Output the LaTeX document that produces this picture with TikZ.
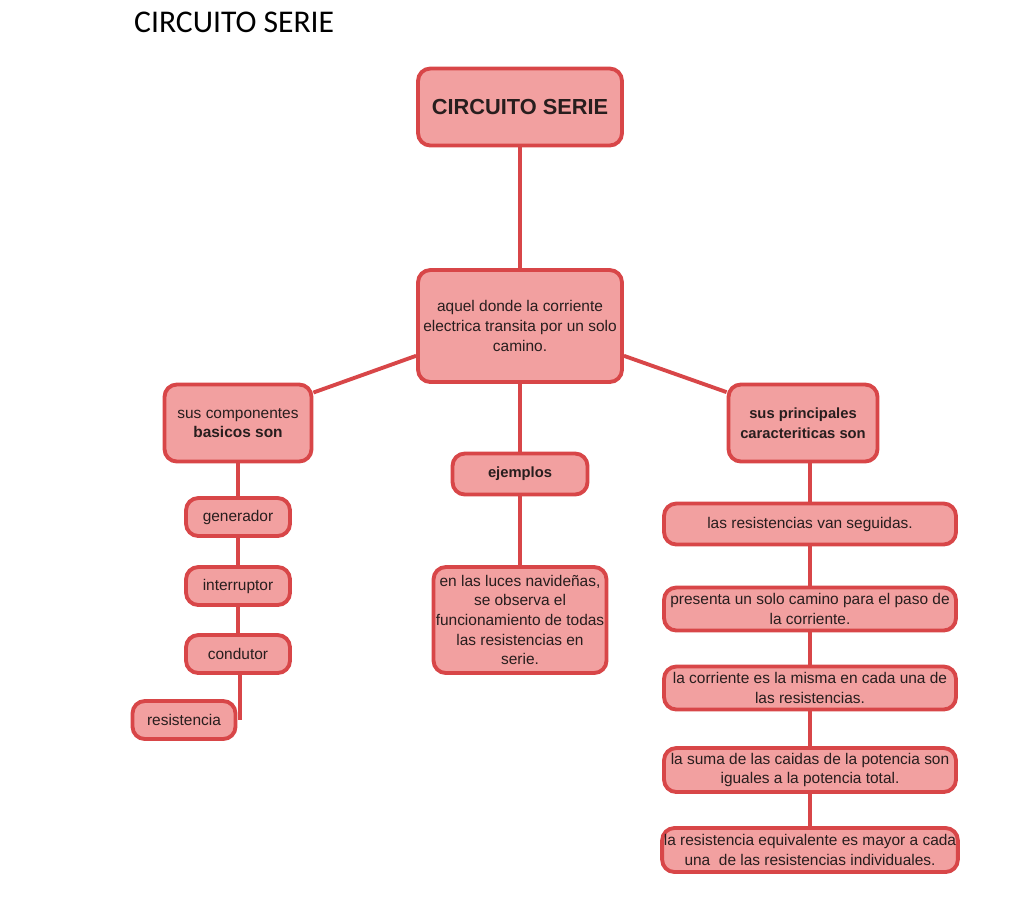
\documentclass[tikz,border=0pt]{standalone}
\usepackage{fontspec}
\setmainfont{Liberation Sans}
\newfontfamily\titlefont{Carlito}
\definecolor{boxfill}{RGB}{242,160,160}
\definecolor{boxline}{RGB}{216,70,72}
\definecolor{txt}{RGB}{40,30,30}
\begin{document}
\begin{tikzpicture}[x=0.02cm,y=-0.02cm,
  box/.style={draw=boxline, fill=boxfill, line width=2.2pt, rounded corners=7pt,
    align=center, text=txt, inner sep=1pt,
    font=\fontsize{8.8}{11.2}\selectfont},
  head/.style={box, font=\fontsize{8.4}{11.2}\selectfont\bfseries},
  link/.style={draw=boxline, line width=2.2pt}]
\useasboundingbox (0,0) rectangle (1016,897);
\node[font=\titlefont\fontsize{18}{20}\selectfont, anchor=west] (title) at (128,22) {CIRCUITO SERIE};

\node[box, font=\fontsize{12.4}{14}\selectfont\bfseries, minimum width=4.08cm, minimum height=1.54cm] (root) at (520,107) {CIRCUITO SERIE};
\node[box, minimum width=4.08cm, minimum height=2.24cm] (def) at (520,326) {aquel donde la corriente\\electrica transita por un solo\\camino.};

% left branch
\node[box, minimum width=2.94cm, minimum height=1.54cm] (comp) at (238,423) {sus componentes\\\textbf{basicos son}};
\node[box, minimum width=2.08cm, minimum height=0.76cm] (gen) at (238,517) {generador};
\node[box, minimum width=2.08cm, minimum height=0.76cm] (inter) at (238,586) {interruptor};
\node[box, minimum width=2.08cm, minimum height=0.76cm] (cond) at (238,654) {condutor};
\node[box, minimum width=2.06cm, minimum height=0.76cm] (res) at (184,720) {resistencia};

% middle branch
\node[head, minimum width=2.7cm, minimum height=0.82cm] (ej) at (520,474) {ejemplos};
\node[box, minimum width=3.46cm, minimum height=2.12cm] (luces) at (520,620) {en las luces navideñas,\\se observa el\\funcionamiento de todas\\las resistencias en\\serie.};

% right branch
\node[head, minimum width=2.98cm, minimum height=1.54cm] (car) at (803,423) {sus principales\\caracteriticas son};
\node[box, minimum width=5.84cm, minimum height=0.82cm] (r1) at (810,524) {las resistencias van seguidas.};
\node[box, minimum width=5.84cm, minimum height=0.86cm] (r2) at (810,609) {presenta un solo camino para el paso de\\la corriente.};
\node[box, minimum width=5.84cm, minimum height=0.86cm] (r3) at (810,688) {la corriente es la misma en cada una de\\las resistencias.};
\node[box, minimum width=5.84cm, minimum height=0.88cm] (r4) at (810,770) {la suma de las caidas de la potencia son\\iguales a la potencia total.};
\node[box, minimum width=5.84cm, minimum height=0.88cm] (r5) at (810,850) {la resistencia equivalente es mayor a cada\\una\ \ de las resistencias individuales.};

\draw[link] (root) -- (def);
\draw[link] (def.196) -- (comp.22);
\draw[link] (def.344) -- (car.158);
\draw[link] (def) -- (ej);
\draw[link] (ej) -- (luces);
\draw[link] (comp) -- (gen);
\draw[link] (gen) -- (inter);
\draw[link] (inter) -- (cond);
\coordinate (resend) at ([xshift=1pt]cond.south |- res.east);
\draw[link] ([xshift=1pt]cond.south) -- (resend);
\coordinate (carend) at (r1.north |- car.south);
\draw[link] (carend) -- (r1.north);
\draw[link] (r1) -- (r2);
\draw[link] (r2) -- (r3);
\draw[link] (r3) -- (r4);
\draw[link] (r4) -- (r5);
\end{tikzpicture}
\end{document}
